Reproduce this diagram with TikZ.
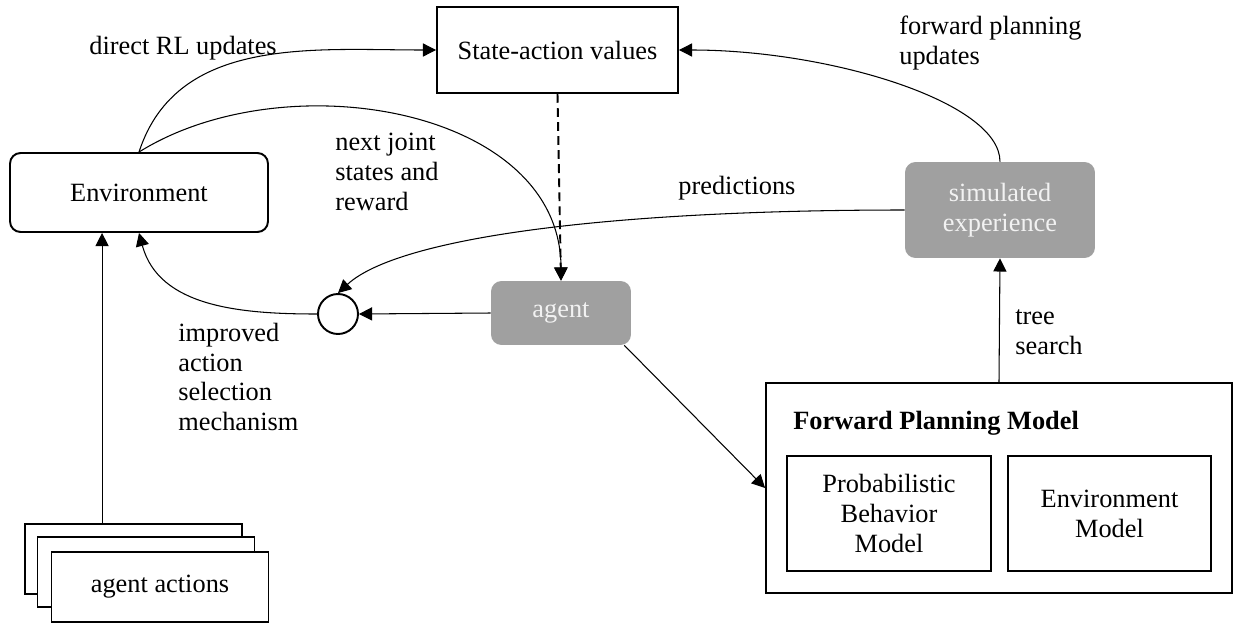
\documentclass[tikz,border=0pt]{standalone}
\usepackage{fontspec}
\setmainfont{Liberation Serif}
\usetikzlibrary{arrows.meta,calc}
\definecolor{boxgray}{HTML}{A0A0A0}
\begin{document}
\begin{tikzpicture}[x=0.02cm,y=-0.02cm,
  font=\fontsize{15}{17}\selectfont,
  box/.style={draw=black,line width=1.1pt,fill=white,align=center,inner sep=2pt},
  rbox/.style={box,rounded corners=6pt},
  gbox/.style={fill=boxgray,text=white!95!black,rounded corners=6pt,align=center,inner sep=2pt},
  conn/.style={line width=0.6pt,-{Triangle[length=7.5pt,width=7.5pt]}},
  lbl/.style={align=left,anchor=west,inner sep=0pt}]
\useasboundingbox (0,0) rectangle (1235,626);

% nodes
\node[box,minimum width=4.82cm,minimum height=1.72cm] (sav) at (557.5,50) {State-action values};
\node[rbox,minimum width=5.16cm,minimum height=1.58cm] (env) at (139,192.5) {Environment};
\node[gbox,minimum width=2.8cm,minimum height=1.28cm] (agent) at (561,313) {agent};
\node[gbox,minimum width=3.8cm,minimum height=1.92cm] (sim) at (1000,210) {simulated\\experience};
\node[draw,line width=1.1pt,circle,minimum size=0.8cm,inner sep=0pt] (mix) at (338,314) {};
\node[box,minimum width=9.32cm,minimum height=4.2cm] (fpm) at (999,488) {};
\node[font=\fontsize{15}{17}\selectfont\bfseries,anchor=west,inner sep=0pt] (fpmt) at (793,423) {Forward Planning Model};
\node[box,minimum width=4.08cm,minimum height=2.3cm] (pbm) at (889,513.5) {Probabilistic\\Behavior\\Model};
\node[box,minimum width=4.06cm,minimum height=2.3cm] (em) at (1109.5,513.5) {Environment\\Model};
\node[box,minimum width=4.34cm,minimum height=1.4cm] (a1) at (133.5,559) {};
\node[box,minimum width=4.34cm,minimum height=1.4cm] (a2) at (146,572) {};
\node[box,minimum width=4.34cm,minimum height=1.4cm] (a3) at (160,587) {agent actions};

% connectors
\draw[conn] (env.north) to[out=72,in=180] (sav.west);
\draw[conn] (env.north) to[out=32,in=90] (agent.north);
\draw[conn,dash pattern=on 5pt off 3pt,line width=1.1pt] (sav.south) -- (agent.north);
\draw[conn] (sim.north) .. controls +(0,-60) and +(150,0) .. (sav.east);
\draw[conn] (sim.west) .. controls +(-300,0) and +(60,-55) .. (mix.north);
\draw[conn] (agent.west) -- (mix.east);
\draw[conn] (mix.west) to[out=180,in=-75] (env.south);
\coordinate (aup) at ($(a1.north west)+(78,0)$);
\draw[conn] (aup) -- (aup |- env.south);
\draw[conn] ($(agent.south east)+(-7,0)$) -- (fpm.west);
\draw[conn] (fpm.north) -- (sim.south);

% labels
\node[lbl] (l1) at (89,48) {direct RL updates};
\node[lbl] (l2) at (335,172) {next joint\\states and\\reward};
\node[lbl] (l3) at (678,188) {predictions};
\node[lbl] (l4) at (899,43) {forward planning\\updates};
\node[lbl] (l5) at (178,377) {improved\\action\\selection\\mechanism};
\node[lbl] (l6) at (1015,332) {tree\\search};
\end{tikzpicture}
\end{document}
